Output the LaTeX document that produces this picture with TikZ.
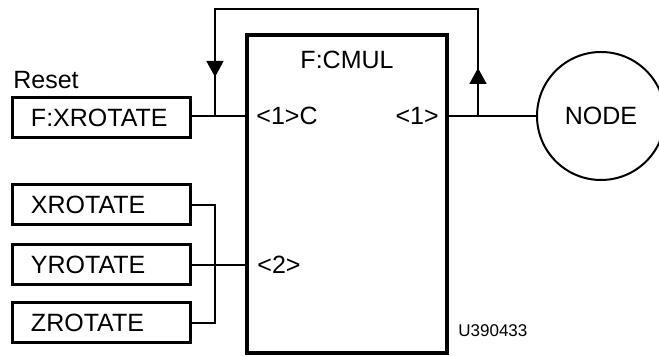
\documentclass[tikz,border=0pt]{standalone}
\usepackage{fontspec}
\setmainfont{Liberation Sans}
\usetikzlibrary{arrows.meta, decorations.markings}

\begin{document}
\begin{tikzpicture}[
  x=0.5pt, y=-0.5pt,
  font=\fontsize{12.5}{14}\selectfont,
  inbox/.style={
    draw, line width=1.5pt, text width=70pt, inner xsep=9.5pt,
    inner ysep=0pt, minimum height=20pt, align=left
  },
  fnbox/.style={
    draw, line width=1.6pt, minimum width=100pt, minimum height=159pt,
    inner sep=0pt
  },
  port/.style={inner sep=0pt},
  wire/.style={line width=0.8pt},
  flow/.style={
    wire, postaction={decorate},
    decoration={markings,
      mark=at position 24pt with {\arrow{Triangle[length=8pt,width=8.5pt]}},
      mark=at position 219pt with {\arrow{Triangle[length=8pt,width=8.5pt]}}}
  }
]
  \useasboundingbox (0,0) rectangle (659,356);

  % function block
  \node[fnbox] (cmul) at (347,194) {};
  \node (cmullab) at (347,60) {F:CMUL};
  \node[port, anchor=west] (p1in) at (256,116) {<1>C};
  \node[port, anchor=east] (p1out) at (439,116) {<1>};
  \node[port, anchor=west] (p2in) at (257,265) {<2>};
  \coordinate (p1w) at (cmul.west |- p1in);
  \coordinate (p1e) at (cmul.east |- p1out);

  % inputs
  \node[anchor=south west, inner sep=0pt] (resetlab) at (13,89) {Reset};
  \node[inbox] (fx) at (101,118) {F:XROTATE};
  \node[inbox] (xr) at (101,205) {XROTATE};
  \node[inbox] (yr) at (101,265) {YROTATE};
  \node[inbox] (zr) at (101,323) {ZROTATE};

  \node[draw, circle, line width=1pt, minimum size=64pt, inner sep=0pt]
    (node) at (601,116) {NODE};

  \node[anchor=south west, inner sep=0pt, font=\fontsize{8.5}{10}\selectfont]
    (tag) at (458,337) {U390433};

  % wiring
  \coordinate (jin) at (215,116);
  \coordinate (jout) at (478,116);
  \coordinate (bus) at (215,265);
  \draw[wire] (fx.east |- jin) -- (p1w);
  \draw[wire] (p1e) -- (node.west);
  \draw[flow] (jout) -- (478,9) -- (215,9) -- (jin);
  \draw[wire] (xr.east) -| (bus) |- (zr.east);
  \draw[wire] (yr.east) -- (yr.east -| cmul.west);
\end{tikzpicture}
\end{document}
